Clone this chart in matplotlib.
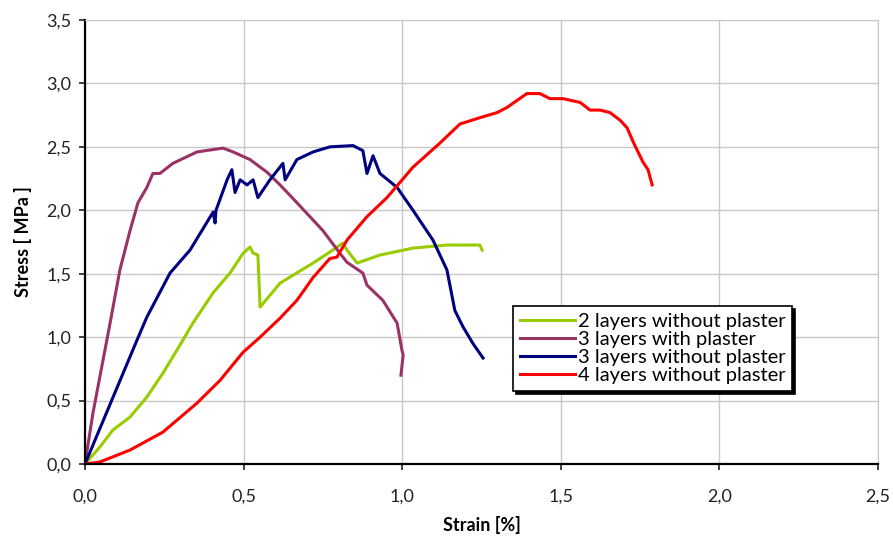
import matplotlib
matplotlib.use("Agg")
import matplotlib.pyplot as plt
from matplotlib.ticker import FuncFormatter, MultipleLocator

labels = ["2 layers without plaster", "3 layers with plaster",
          "3 layers without plaster", "4 layers without plaster"]
colors = ["#99CC00", "#993366", "#000080", "#FF0000"]

green_x = [0, 0.047, 0.088, 0.142, 0.195, 0.246, 0.30, 0.34, 0.404, 0.457, 0.498, 0.520, 0.530, 0.545,
           0.552, 0.615, 0.719, 0.772, 0.813, 0.826, 0.858, 0.930, 1.034, 1.141, 1.245, 1.252]
green_y = [0, 0.134, 0.268, 0.37, 0.528, 0.717, 0.94, 1.11, 1.35, 1.505, 1.66, 1.71, 1.663, 1.647,
           1.237, 1.426, 1.584, 1.671, 1.742, 1.686, 1.584, 1.647, 1.702, 1.726, 1.726, 1.686]

purple_x = [0, 0.025, 0.063, 0.079, 0.110, 0.142, 0.167, 0.195, 0.214, 0.236, 0.277, 0.353, 0.435,
            0.467, 0.520, 0.574, 0.615, 0.668, 0.750, 0.804, 0.826, 0.876, 0.889, 0.939, 0.984,
            0.999, 1.003, 0.996]
purple_y = [0, 0.40, 0.90, 1.11, 1.53, 1.84, 2.06, 2.18, 2.29, 2.29, 2.37, 2.46, 2.49,
            2.46, 2.40, 2.30, 2.20, 2.06, 1.84, 1.66, 1.59, 1.505, 1.41, 1.29, 1.11,
            0.90, 0.86, 0.70]

blue_x = [0, 0.164, 0.195, 0.268, 0.331, 0.404, 0.410, 0.413, 0.448, 0.463, 0.473, 0.489, 0.511,
          0.530, 0.545, 0.583, 0.624, 0.631, 0.668, 0.719, 0.772, 0.845, 0.876, 0.889, 0.908,
          0.930, 0.984, 1.034, 1.097, 1.141, 1.166, 1.192, 1.223, 1.255]
blue_y = [0, 0.977, 1.158, 1.505, 1.686, 1.986, 1.90, 2.00, 2.24, 2.32, 2.14, 2.24, 2.20,
          2.24, 2.10, 2.24, 2.37, 2.24, 2.40, 2.46, 2.50, 2.51, 2.47, 2.29, 2.43,
          2.29, 2.18, 2.00, 1.765, 1.53, 1.21, 1.08, 0.95, 0.835]

red_x = [0, 0.047, 0.142, 0.246, 0.353, 0.426, 0.498, 0.552, 0.615, 0.668, 0.719, 0.772, 0.794,
         0.826, 0.889, 0.952, 1.034, 1.119, 1.182, 1.245, 1.299, 1.330, 1.393, 1.434, 1.466,
         1.507, 1.561, 1.592, 1.624, 1.655, 1.687, 1.709, 1.728, 1.759, 1.775, 1.788]
red_y = [0, 0.016, 0.11, 0.252, 0.48, 0.66, 0.88, 1.00, 1.15, 1.29, 1.47, 1.62, 1.63,
         1.765, 1.95, 2.10, 2.34, 2.53, 2.68, 2.73, 2.77, 2.81, 2.92, 2.92, 2.88,
         2.88, 2.85, 2.79, 2.79, 2.77, 2.71, 2.65, 2.54, 2.38, 2.32, 2.20]

series = [(green_x, green_y), (purple_x, purple_y), (blue_x, blue_y), (red_x, red_y)]

plt.rcParams['font.family'] = ['Lato', 'DejaVu Sans']

fig = plt.figure(figsize=(8.93, 5.38), dpi=100)
ax = fig.add_axes([85/893, 1-464/538, (878-85)/893, (464-20)/538])

for (xs, ys), c, lab in zip(series, colors, labels):
    ax.plot(xs, ys, color=c, lw=2.2, label=lab, solid_joinstyle='round')

ax.set_xlim(0, 2.5)
ax.set_ylim(0, 3.5)
ax.xaxis.set_major_locator(MultipleLocator(0.5))
ax.yaxis.set_major_locator(MultipleLocator(0.5))
fmt = FuncFormatter(lambda v, p: f"{v:.1f}".replace(".", ","))
ax.xaxis.set_major_formatter(fmt)
ax.yaxis.set_major_formatter(fmt)
ax.grid(True, color="#c8c8c8", lw=1)
ax.set_axisbelow(True)
for s in ["top", "right"]:
    ax.spines[s].set_color("#c8c8c8")
for s in ["left", "bottom"]:
    ax.spines[s].set_linewidth(1.6)
    ax.spines[s].set_color("black")
ax.tick_params(axis='both', labelsize=13, colors="#222222", length=4, width=1.2)
ax.tick_params(axis='x', pad=14)
ax.tick_params(axis='y', pad=6)

ax.set_xlabel("Strain [%]", fontsize=13, fontweight='bold', labelpad=8)
ax.set_ylabel("Stress [ MPa ]", fontsize=13, fontweight='bold', labelpad=10)

leg = ax.legend(loc='upper left', bbox_to_anchor=(0.54, 0.356), fontsize=14.5,
                frameon=True, fancybox=False, shadow={'color': 'black', 'alpha': 1},
                handlelength=2.7, handletextpad=0.15, labelspacing=0.05,
                borderpad=0.35, borderaxespad=0)
leg.get_frame().set_edgecolor("black")
leg.get_frame().set_linewidth(1.2)
leg.get_frame().set_alpha(1)

fig.savefig("out.png", dpi=100)
